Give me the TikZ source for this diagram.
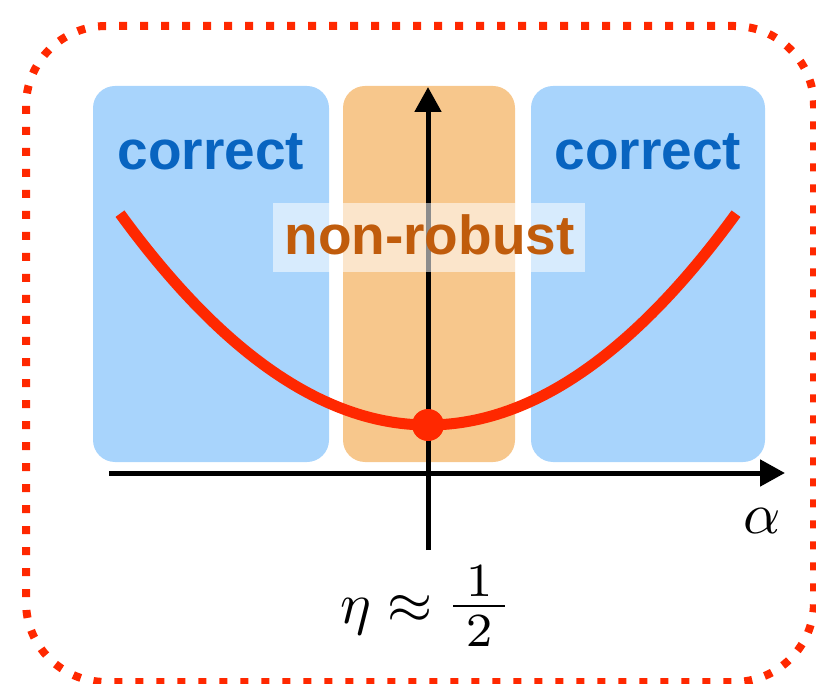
\documentclass[tikz,border=0pt]{standalone}
\usepackage{fontspec}
\usepackage{graphicx}
\newfontfamily\labfont{Liberation Sans}
\usetikzlibrary{arrows.meta}
\definecolor{boxblue}{RGB}{168,212,252}
\definecolor{boxorange}{RGB}{247,199,140}
\definecolor{txtblue}{RGB}{8,100,192}
\definecolor{txtorange}{RGB}{192,92,12}
\definecolor{curvered}{RGB}{255,40,0}
\definecolor{borderred}{RGB}{255,40,0}
\tikzset{
  region/.style={rounded corners=22pt},
  regionlabel/.style={font=\labfont\bfseries\fontsize{55}{60}\selectfont, inner sep=0pt, anchor=base},
  axisline/.style={line width=5pt, -{Triangle[length=25pt,width=26pt]}},
  mathlabel/.style={inner sep=0pt}
}
\begin{document}
\begin{tikzpicture}[x=1pt,y=-1pt]
\useasboundingbox (0,0) rectangle (816,684);
% dotted frame
\draw[borderred, line width=8pt, dash pattern=on 8pt off 13pt, rounded corners=80pt] (26,26) rectangle (814,682);
% regions
\fill[region, boxblue] (93,86) rectangle (329,462);
\fill[region, boxorange] (343,86) rectangle (515,462);
\fill[region, boxblue] (531,86) rectangle (765,462);
\node[regionlabel, text=txtblue] (c1) at (211,170) {correct};
\node[regionlabel, text=txtblue] (c2) at (648,170) {correct};
% axes
\coordinate (xs) at (109,473);
\coordinate (xe) at (785,473);
\coordinate (ys) at (428,550);
\coordinate (ye) at (428,87);
\draw[axisline] (xs) -- (xe);
\draw[axisline] (ys) -- (ye);
% non-robust label with translucent background
\fill[white, opacity=0.55] (273,203) rectangle (585,272);
\node[regionlabel, text=txtorange] (nr) at (429.5,255) {non-robust};
% curve
\draw[curvered, line width=11pt, domain=120:736, samples=80, smooth, variable=\x]
  plot ({\x},{425-0.002235*(\x-428)*(\x-428)});
\node[circle, fill=curvered, minimum size=32pt, inner sep=0pt] (dot) at (428,425) {};
% labels
\node[mathlabel] (alpha) at (762,521) {\scalebox{5.8}{$\alpha$}};
\node[mathlabel] (eta) at (427,606) {\scalebox{5.8}{$\eta \approx$}\hspace{12pt}\scalebox{6.8}{$\frac{\mkern4mu 1\mkern4mu}{\mkern4mu 2\mkern4mu}$}};
\end{tikzpicture}
\end{document}
